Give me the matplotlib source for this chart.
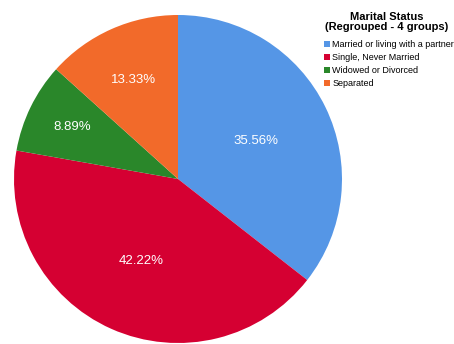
import matplotlib
matplotlib.use("Agg")
import matplotlib.pyplot as plt
import numpy as np
from matplotlib.patches import Patch

plt.rcParams["font.family"] = ["Liberation Sans", "DejaVu Sans"]

# ── Data ────────────────────────────────────────────────────
CATEGORIES = [
    "Married or living with a partner",
    "Single, Never Married",
    "Widowed or Divorced",
    "Separated",
]
PERCENTS = [35.56, 42.22, 8.89, 13.33]
COLORS = ["#5596E6", "#D50032", "#2A872A", "#F26A2A"]
LABEL_RADII = [0.53, 0.55, 0.72, 0.66]   # label distance from centre, per slice
LEGEND_TITLE = "Marital Status\n(Regrouped - 4 groups)"

W, H = 454, 344
fig = plt.figure(figsize=(W / 100, H / 100), dpi=100)

# pie axes: centre (178, 179) px from top-left, radius 164 px
cx, cy, r = 178, 179, 164
ax = fig.add_axes([(cx - r) / W, (H - cy - r) / H, 2 * r / W, 2 * r / H])
wedges, _ = ax.pie(PERCENTS, colors=COLORS, startangle=90, counterclock=False,
                   radius=1.0, wedgeprops=dict(linewidth=0))
ax.set_xlim(-1, 1)
ax.set_ylim(-1, 1)
ax.set_aspect("equal")
ax.axis("off")

for w, p, lr in zip(wedges, PERCENTS, LABEL_RADII):
    mid = np.deg2rad((w.theta1 + w.theta2) / 2)
    ax.text(lr * np.cos(mid), lr * np.sin(mid), f"{p:.2f}%", color="white",
            fontsize=9.5, ha="center", va="center")

# legend title drawn separately so its spacing can be set
fig.text(387 / W, 1 - 22 / H, LEGEND_TITLE, ha="center", va="center",
         fontsize=8, fontweight="bold", linespacing=1.0)

handles = [Patch(facecolor=c, edgecolor="none") for c in COLORS]
fig.legend(handles, CATEGORIES, loc="upper left",
           bbox_to_anchor=(324 / W, 1 - 40 / H),
           fontsize=6.5, frameon=False, handlelength=0.7, handleheight=0.7,
           handletextpad=0.2, labelspacing=0.45, borderpad=0,
           borderaxespad=0)

fig.savefig("out.png", dpi=100)
